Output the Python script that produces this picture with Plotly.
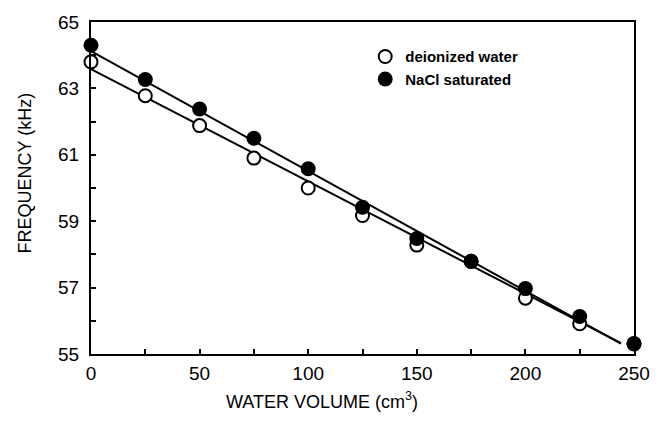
import plotly.graph_objects as go

volume = [0, 25, 50, 75, 100, 125, 150, 175, 200, 225, 250]
deionized = [63.8, 62.78, 61.88, 60.9, 60.0, 59.17, 58.28, 57.79, 56.68, 55.91, 55.3]
nacl = [64.3, 63.27, 62.38, 61.5, 60.58, 59.42, 58.48, 57.79, 56.97, 56.13, 55.32]

fit_x = [0, 244]
fit_deionized = [63.58, 55.33]
fit_nacl = [64.12, 55.31]

x_ticks = [0, 50, 100, 150, 200, 250]
y_ticks = [55, 57, 59, 61, 63, 65]

FONT = "Liberation Sans"

fig = go.Figure()
fig.add_trace(go.Scatter(x=fit_x, y=fit_deionized, mode="lines",
                         line=dict(color="black", width=2), showlegend=False,
                         cliponaxis=False, hoverinfo="skip"))
fig.add_trace(go.Scatter(x=fit_x, y=fit_nacl, mode="lines",
                         line=dict(color="black", width=2), showlegend=False,
                         cliponaxis=False, hoverinfo="skip"))
fig.add_trace(go.Scatter(x=volume, y=deionized, mode="markers", name="deionized water",
                         marker=dict(symbol="circle", size=13, color="white",
                                     line=dict(color="black", width=2)),
                         cliponaxis=False))
fig.add_trace(go.Scatter(x=volume, y=nacl, mode="markers", name="NaCl saturated",
                         marker=dict(symbol="circle", size=15, color="black",
                                     line=dict(color="black", width=0)),
                         cliponaxis=False))

fig.update_layout(
    width=665, height=425,
    margin=dict(l=91, r=31, t=17, b=71),
    paper_bgcolor="white", plot_bgcolor="white",
    font=dict(family=FONT, size=19, color="black"),
    showlegend=True,
    legend=dict(x=0.505, y=0.945, xanchor="left", yanchor="top",
                font=dict(family=FONT, size=15, color="black", weight="bold"),
                bgcolor="rgba(0,0,0,0)", itemwidth=30, tracegroupgap=0),
    xaxis=dict(range=[0, 250], tickvals=x_ticks, ticks="inside", ticklen=5,
               tickwidth=1.5, tickcolor="black",
               minor=dict(dtick=25, tick0=0, ticks="inside", ticklen=5, tickcolor="black"),
               showline=True, linecolor="black", linewidth=2, mirror=True,
               showgrid=False, zeroline=False, ticklabelstandoff=1,
               tickfont=dict(family=FONT, size=19)),
    yaxis=dict(range=[55, 65], tickvals=y_ticks, ticks="inside", ticklen=5,
               tickwidth=1.5, tickcolor="black",
               minor=dict(dtick=1, tick0=55, ticks="inside", ticklen=5, tickcolor="black"),
               showline=True, linecolor="black", linewidth=2, mirror=True,
               showgrid=False, zeroline=False, ticklabelstandoff=6,
               tickfont=dict(family=FONT, size=19)),
    annotations=[
        dict(text="WATER VOLUME (cm<sup>3</sup>)", xref="paper", yref="paper",
             x=0.425, y=-0.14, xanchor="center", yanchor="middle", showarrow=False,
             font=dict(family=FONT, size=18)),
        dict(text="FREQUENCY (kHz)", xref="paper", yref="paper",
             x=-0.122, y=0.546, xanchor="center", yanchor="middle", showarrow=False,
             textangle=-90, font=dict(family=FONT, size=18)),
    ],
)

fig.write_html("out.html")
